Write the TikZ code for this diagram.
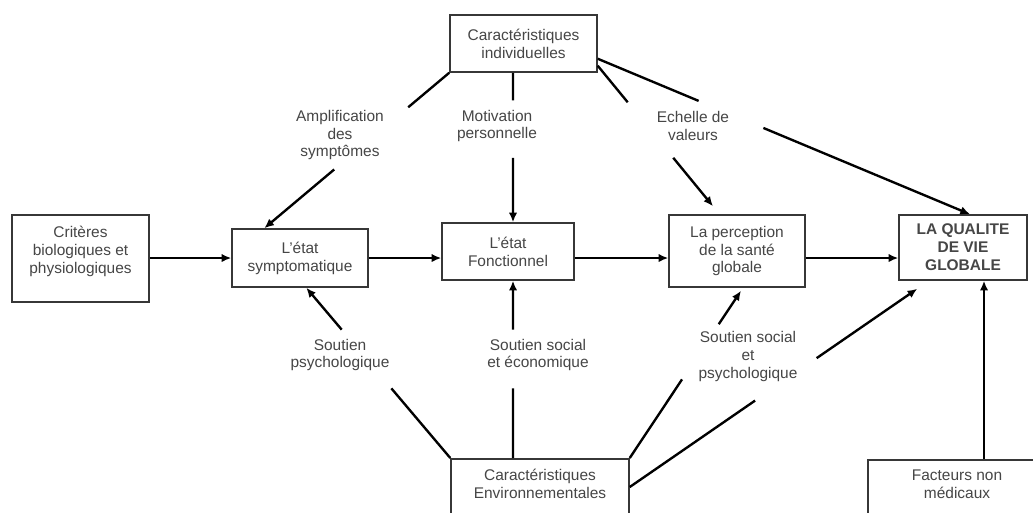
\documentclass[tikz,border=0pt]{standalone}
\usepackage{fontspec}
\setmainfont{Liberation Sans}
\usetikzlibrary{positioning,calc,arrows.meta}
\definecolor{boxgray}{RGB}{55,55,55}
\definecolor{textgray}{RGB}{70,70,70}
\newcommand{\qvfont}{\fontsize{8.8}{10.2}\selectfont}

\tikzset{
  box/.style={draw=boxgray, line width=0.85pt, text=textgray, font=\qvfont, align=center, inner sep=2pt},
  lbl/.style={text=textgray, font=\qvfont, align=center},
  link/.style={line width=1.35pt},
  arr/.style={link, -{Latex[length=5.5pt,width=4.8pt]}}
}

\begin{document}
\begin{tikzpicture}[x=0.02cm, y=-0.02cm]
    \useasboundingbox (0,0) rectangle (1033,512);
    \clip (0,0) rectangle (1033,512);
    \fill[white] (0,0) rectangle (1033,512);

    % Boxes
    \node[box, minimum width=2.94cm, minimum height=1.14cm] (ind) at (523.5,43.5) {Caractéristiques\\individuelles};
    \node[box, minimum width=2.7cm, minimum height=1.74cm, inner ysep=0pt] (crit) at (80.5,258.5)
        {\parbox[c][1.30cm][t]{2.6cm}{\centering Critères\\biologiques et\\physiologiques}};
    \node[box, minimum width=2.72cm, minimum height=1.16cm] (sympt) at (300,258) {L'état\\symptomatique};
    \node[box, minimum width=2.64cm, minimum height=1.14cm] (fonct) at (508,251.5) {L'état\\Fonctionnel};
    \node[box, minimum width=2.72cm, minimum height=1.44cm] (perc) at (737,251) {La perception\\de la santé\\globale};
    \node[box, font=\qvfont\bfseries, minimum width=2.56cm, minimum height=1.3cm] (qual) at (963,247.5) {LA QUALITE\\DE VIE\\GLOBALE};
    \node[box, minimum width=3.56cm, anchor=north, inner ysep=0.2cm] (env) at (540,458)
        {\parbox[t][1.5cm][t]{3.4cm}{\centering Caractéristiques\\Environnementales}};
    \node[box, minimum width=3.56cm, anchor=north, inner ysep=0.2cm] (fact) at (957,459)
        {\parbox[t][1.5cm][t]{3.4cm}{\centering Facteurs non\\médicaux}};

    % Labels
    \node[lbl] (amp) at (340,135) {Amplification\\des\\symptômes};
    \node[lbl] (motiv) at (497,126) {Motivation\\personnelle};
    \node[lbl] (ech) at (693,126) {Echelle de\\valeurs};
    \node[lbl] (spsy) at (340,355) {Soutien\\psychologique};
    \node[lbl] (ssoc) at (538,355) {Soutien social\\et économique};
    \node[lbl] (sspsy) at (748,356.5) {Soutien social\\et\\psychologique};

    % Main chain
    \draw[arr] (crit.east |- sympt) -- (sympt.west);
    \draw[arr] (sympt.east) -- (sympt.east -| fonct.west);
    \draw[arr] (fonct.east |- sympt) -- (perc.west |- sympt);
    \draw[arr] (perc.east |- sympt) -- (qual.west |- sympt);

    % End points of the broken links
    \coordinate (ampS) at (ind.south west);
    \coordinate (ampE) at ($(sympt.north west)+(33,0)$);
    \coordinate (motE) at ($(fonct.north)+(5,0)$);
    \coordinate (motS) at (ind.south -| motE);
    \coordinate (echS) at ($(ind.south east)+(0,-7)$);
    \coordinate (echE) at ($(perc.north)+(-24,-8)$);
    \coordinate (valS) at ($(ind.south east)+(0,-14)$);
    \coordinate (valE) at ($(qual.north)+(7,0)$);
    \coordinate (spsS) at (env.north west);
    \coordinate (spsE) at ($(sympt.south west)+(75,0)$);
    \coordinate (ssoS) at (env.north -| motE);
    \coordinate (ssoE) at (fonct.south -| motE);
    \coordinate (sspS) at (env.north east);
    \coordinate (sspE) at ($(perc.south)+(4,3)$);
    \coordinate (sqvS) at ($(env.north east)+(0,29)$);
    \coordinate (sqvE) at ($(qual.south west)+(19,8)$);

    % Broken links, gap where the label sits
    \foreach \k/\ta/\tb in {amp/0.222/0.622, mot/0.185/0.57, ech/0.26/0.655, val/0.271/0.445,
                            sps/0.409/0.754, sso/0.393/0.725, ssp/0.47/0.80, sqv/0.436/0.65} {
        \draw[link] (\k S) -- ($(\k S)!\ta!(\k E)$);
        \draw[arr] ($(\k S)!\tb!(\k E)$) -- (\k E);
    }

    % Non medical factors
    \coordinate (nmE) at ($(qual.south)+(21,0)$);
    \draw[arr] (fact.north -| nmE) -- (nmE);
\end{tikzpicture}
\end{document}
